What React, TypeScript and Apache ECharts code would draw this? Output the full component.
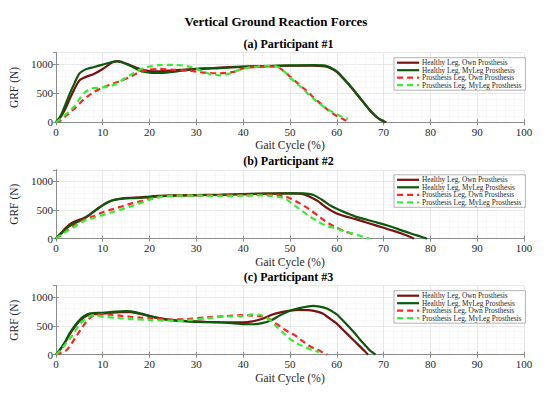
import React, { useEffect, useRef } from "react";
import * as echarts from "echarts";

const seriesNames = [
  "Healthy Leg, Own Prosthesis",
  "Healthy Leg, MyLeg Prosthesis",
  "Prosthesis Leg, Own Prosthesis",
  "Prosthesis Leg, MyLeg Prosthesis",
];
const panelTitles = ["(a) Participant #1", "(b) Participant #2", "(c) Participant #3"];
const xTicks = [0, 10, 20, 30, 40, 50, 60, 70, 80, 90, 100];
const yTicks = [0, 500, 1000];

// Participant #1
const aHealthyOwn = [[0,0],[1,90],[2,230],[3,410],[4,580],[5,720],[6,770],[7,800],[8,830],[10,920],[12,1030],[13,1055],[14,1045],[16,980],[18,920],[20,885],[22,880],[25,895],[30,920],[35,945],[40,960],[45,970],[50,975],[55,975],[57,970],[58,955],[59,920],[60,870],[61,790],[62,700],[63,610],[64,510],[65,410],[66,310],[67,210],[68,125],[69,60],[70,15],[70.4,0]];
const aHealthyMyLeg = [[0,0],[1,110],[2,300],[3,500],[4,680],[5,840],[6,900],[7,930],[8,950],[10,995],[12,1040],[13,1050],[14,1035],[16,970],[18,890],[20,855],[22,850],[25,870],[30,915],[35,935],[40,955],[45,970],[50,980],[55,985],[57,980],[58,965],[59,930],[60,880],[61,800],[62,710],[63,620],[64,520],[65,420],[66,320],[67,220],[68,135],[69,65],[70,20],[70.6,0]];
const aProsOwn = [[0,0],[1,30],[2,100],[3,170],[4,240],[5,320],[6,400],[7,460],[8,520],[10,600],[12,660],[14,720],[16,790],[18,870],[20,910],[22,920],[25,905],[28,895],[30,875],[32,855],[35,845],[38,870],[40,930],[43,955],[45,965],[47,960],[48,925],[49,860],[50,790],[51,720],[52,650],[53,580],[54,510],[55,430],[56,360],[57,290],[58,220],[59,160],[60,110],[61,70],[62,30],[62.6,0]];
const aProsMyLeg = [[0,0],[1,60],[2,130],[3,200],[4,280],[5,400],[6,500],[7,560],[8,590],[9,595],[10,600],[11,615],[12,635],[13,670],[14,720],[16,820],[18,910],[20,960],[22,985],[25,990],[27,980],[29,950],[31,890],[33,830],[35,810],[37,840],[39,900],[41,940],[43,960],[45,975],[47,965],[48,930],[49,860],[50,770],[51,700],[52,630],[53,560],[54,480],[55,410],[56,340],[57,280],[58,230],[59,180],[60,140],[61,100],[62,70],[62.4,55]];

// Participant #2
const bHealthyOwn = [[0,0],[1,90],[2,180],[3,255],[4,300],[5,330],[6,360],[7,410],[8,470],[9,530],[10,585],[11,630],[12,665],[13,685],[14,700],[16,712],[18,720],[20,735],[22,745],[25,755],[30,760],[35,765],[40,775],[45,785],[48,790],[50,790],[52,785],[53,770],[54,740],[55,700],[56,655],[57,590],[58,530],[59,480],[60,440],[62,385],[64,340],[66,290],[68,240],[70,190],[72,140],[74,85],[75.5,40],[76.5,0]];
const bHealthyMyLeg = [[0,0],[1,80],[2,160],[3,225],[4,270],[5,305],[6,345],[7,400],[8,465],[9,525],[10,580],[11,630],[12,665],[13,685],[14,695],[16,705],[18,712],[20,725],[22,738],[25,750],[30,758],[35,765],[40,775],[45,785],[50,790],[53,790],[54,780],[55,760],[56,720],[57,670],[58,610],[59,560],[60,520],[62,450],[64,385],[66,340],[68,295],[70,250],[72,200],[74,140],[76,85],[78,35],[79.3,0]];
const bProsOwn = [[0,0],[2,120],[4,230],[6,330],[8,390],[10,460],[12,510],[14,560],[16,610],[18,650],[20,700],[22,730],[25,750],[30,755],[35,755],[40,758],[45,762],[47,760],[49,730],[50,705],[52,620],[54,520],[56,400],[58,280],[60,190],[62,120],[63.5,80]];
const bProsMyLeg = [[0,0],[2,110],[4,210],[6,310],[8,360],[10,410],[12,460],[14,510],[16,560],[18,620],[20,680],[22,720],[25,750],[30,750],[35,745],[40,750],[44,755],[46,745],[48,720],[49,700],[50,640],[52,520],[54,400],[56,296],[58,220],[60,175],[62,120],[64,75],[66,25],[67,0]];

// Participant #3
const cHealthyOwn = [[0,0],[1,100],[2,220],[3,360],[4,480],[5,580],[6,650],[7,690],[8,705],[10,715],[12,730],[14,740],[15,742],[16,738],[18,710],[20,670],[22,635],[24,610],[26,595],[28,585],[30,578],[32,572],[35,566],[40,562],[42,580],[44,620],[46,690],[48,735],[50,765],[52,778],[54,775],[56,745],[57,715],[58,660],[59,600],[60,540],[61,460],[62,380],[63,300],[64,220],[65,140],[66,60],[66.7,0]];
const cHealthyMyLeg = [[0,0],[1,100],[2,230],[3,380],[4,500],[5,600],[6,670],[7,710],[8,725],[10,730],[12,745],[14,755],[15,758],[16,752],[18,720],[20,675],[22,635],[24,605],[26,590],[28,578],[30,570],[35,560],[38,545],[40,532],[42,530],[44,548],[46,600],[48,690],[50,765],[52,810],[54,840],[55,848],[56,840],[58,800],[60,700],[61,620],[62,540],[63,450],[64,360],[65,260],[66,170],[67,80],[68,20],[68.3,0]];
const cProsOwn = [[0,0],[1,30],[2,60],[3,150],[4,280],[5,400],[6,520],[7,620],[8,680],[10,705],[12,695],[14,675],[16,660],[18,645],[20,635],[24,610],[28,620],[32,650],[36,670],[40,690],[44,665],[45,650],[46,600],[47,545],[48,490],[49,430],[50,380],[51,340],[52,280],[53,220],[54,160],[55,115],[56,80],[57,40],[58,0]];
const cProsMyLeg = [[0,0],[1,80],[2,180],[3,280],[4,400],[5,517],[6,600],[7,660],[8,690],[9,680],[10,662],[13,640],[16,620],[20,605],[24,590],[26,585],[28,600],[32,630],[36,662],[40,675],[42,700],[43.5,695],[44.5,670],[45.2,630],[46,580],[47,500],[48,420],[49,350],[50,275],[51,220],[52,175],[53,140],[54,105],[55,75],[56.3,45]];

const panels = [
  [aHealthyOwn, aHealthyMyLeg, aProsOwn, aProsMyLeg],
  [bHealthyOwn, bHealthyMyLeg, bProsOwn, bProsMyLeg],
  [cHealthyOwn, cHealthyMyLeg, cProsOwn, cProsMyLeg],
];

const FONT = "Liberation Serif";
const colors = ["#7a1212", "#0b5a0b", "#ff2222", "#33ee33"];
const gridTops = [52.7, 169.8, 285.7];
const gridHeights = [69.6, 68.9, 69];
const GL = 53;
const GW = 471;

export default function App() {
  const ref = useRef<HTMLDivElement>(null);
  useEffect(() => {
    if (!ref.current) return;
    const chart = echarts.init(ref.current, null, { renderer: "svg" });
    const grids: any[] = [];
    const xAxes: any[] = [];
    const yAxes: any[] = [];
    const series: any[] = [];
    const legends: any[] = [];
    const graphics: any[] = [
      {
        type: "text",
        x: 276,
        y: 21,
        style: {
          text: "Vertical Ground Reaction Forces",
          font: `bold 13px "${FONT}"`,
          fill: "#000",
          textAlign: "center",
          textVerticalAlign: "middle",
        },
      },
    ];
    const axisColor = "#8c8c8c";
    panels.forEach((p, i) => {
      grids.push({ left: GL, top: gridTops[i], width: GW, height: gridHeights[i], containLabel: false });
      graphics.push({
        type: "text",
        x: GL + GW / 2,
        y: gridTops[i] - 8.5,
        style: {
          text: panelTitles[i],
          font: `bold 12px "${FONT}"`,
          fill: "#000",
          textAlign: "center",
          textVerticalAlign: "middle",
        },
      });
      const xBase = {
        type: "value",
        gridIndex: i,
        min: xTicks[0],
        max: xTicks[xTicks.length - 1],
        interval: xTicks[1] - xTicks[0],
      };
      const yBase = {
        type: "value",
        gridIndex: i,
        min: 0,
        max: 1200,
        interval: yTicks[1] - yTicks[0],
      };
      xAxes.push({
        ...xBase,
        position: "bottom",
        name: "Gait Cycle (%)",
        nameLocation: "middle",
        nameGap: 17,
        nameTextStyle: { fontFamily: FONT, fontSize: 11.5, color: "#262626" },
        axisLine: { show: true, lineStyle: { color: axisColor, width: 1 } },
        axisTick: { show: true, inside: true, length: 3, lineStyle: { color: axisColor } },
        axisLabel: { fontFamily: FONT, fontSize: 11, color: "#262626", margin: 4, formatter: (v: number) => String(v) },
        splitLine: { show: true, lineStyle: { color: "#e2e2e2", width: 0.8 } },
        minorTick: { show: false, splitNumber: 5 },
        minorSplitLine: { show: true, lineStyle: { color: "#f3f3f3", width: 0.6 } },
      });
      xAxes.push({
        ...xBase,
        position: "top",
        axisLine: { show: true, lineStyle: { color: axisColor, width: 1 } },
        axisTick: { show: true, inside: true, length: 3, lineStyle: { color: axisColor } },
        axisLabel: { show: false },
        splitLine: { show: false },
      });
      yAxes.push({
        ...yBase,
        position: "left",
        name: "GRF (N)",
        nameLocation: "middle",
        nameGap: 27,
        nameTextStyle: { fontFamily: FONT, fontSize: 11.5, color: "#262626" },
        axisLine: { show: true, lineStyle: { color: axisColor, width: 1 } },
        axisTick: { show: true, inside: true, length: 3, lineStyle: { color: axisColor } },
        axisLabel: { fontFamily: FONT, fontSize: 11, color: "#262626", margin: 3, showMaxLabel: false, formatter: (v: number) => String(v) },
        splitLine: { show: true, lineStyle: { color: "#e2e2e2", width: 0.8 } },
        minorTick: { show: false, splitNumber: 5 },
        minorSplitLine: { show: true, lineStyle: { color: "#f3f3f3", width: 0.6 } },
      });
      yAxes.push({
        ...yBase,
        position: "right",
        axisLine: { show: true, lineStyle: { color: axisColor, width: 1 } },
        axisTick: { show: true, inside: true, length: 3, lineStyle: { color: axisColor } },
        axisLabel: { show: false },
        splitLine: { show: false },
      });
      p.forEach((data, k) => {
        series.push({
          type: "line",
          name: seriesNames[k],
          xAxisIndex: i * 2,
          yAxisIndex: i * 2,
          data,
          symbol: "none",
          smooth: 0.3,
          lineStyle: {
            color: colors[k],
            width: 2.2,
            type: k >= 2 ? [6, 4] : "solid",
          },
          itemStyle: { color: colors[k] },
          z: 2 + k,
        });
      });
      legends.push({
        data: seriesNames,
        orient: "vertical",
        left: 394,
        top: gridTops[i] + 5,
        itemWidth: 22,
        itemHeight: 8,
        itemGap: 0.5,
        padding: [1.5, 4, 1.5, 2],
        backgroundColor: "#ffffff",
        borderColor: "#a0a0a0",
        borderWidth: 0.8,
        borderRadius: 0,
        selectedMode: false,
        itemStyle: { opacity: 0 },
        lineStyle: { width: 2.2 },
        textStyle: { fontFamily: FONT, fontSize: 7.3, color: "#262626", padding: [0, 0, 0, -2] },
      });
    });
    chart.setOption({
      animation: false,
      backgroundColor: "#ffffff",
      grid: grids,
      xAxis: xAxes,
      yAxis: yAxes,
      series,
      legend: legends,
      graphic: graphics,
    });
    return () => chart.dispose();
  }, []);
  return <div ref={ref} style={{ width: 550, height: 393, position: "absolute", left: 0, top: 0 }} />;
}
